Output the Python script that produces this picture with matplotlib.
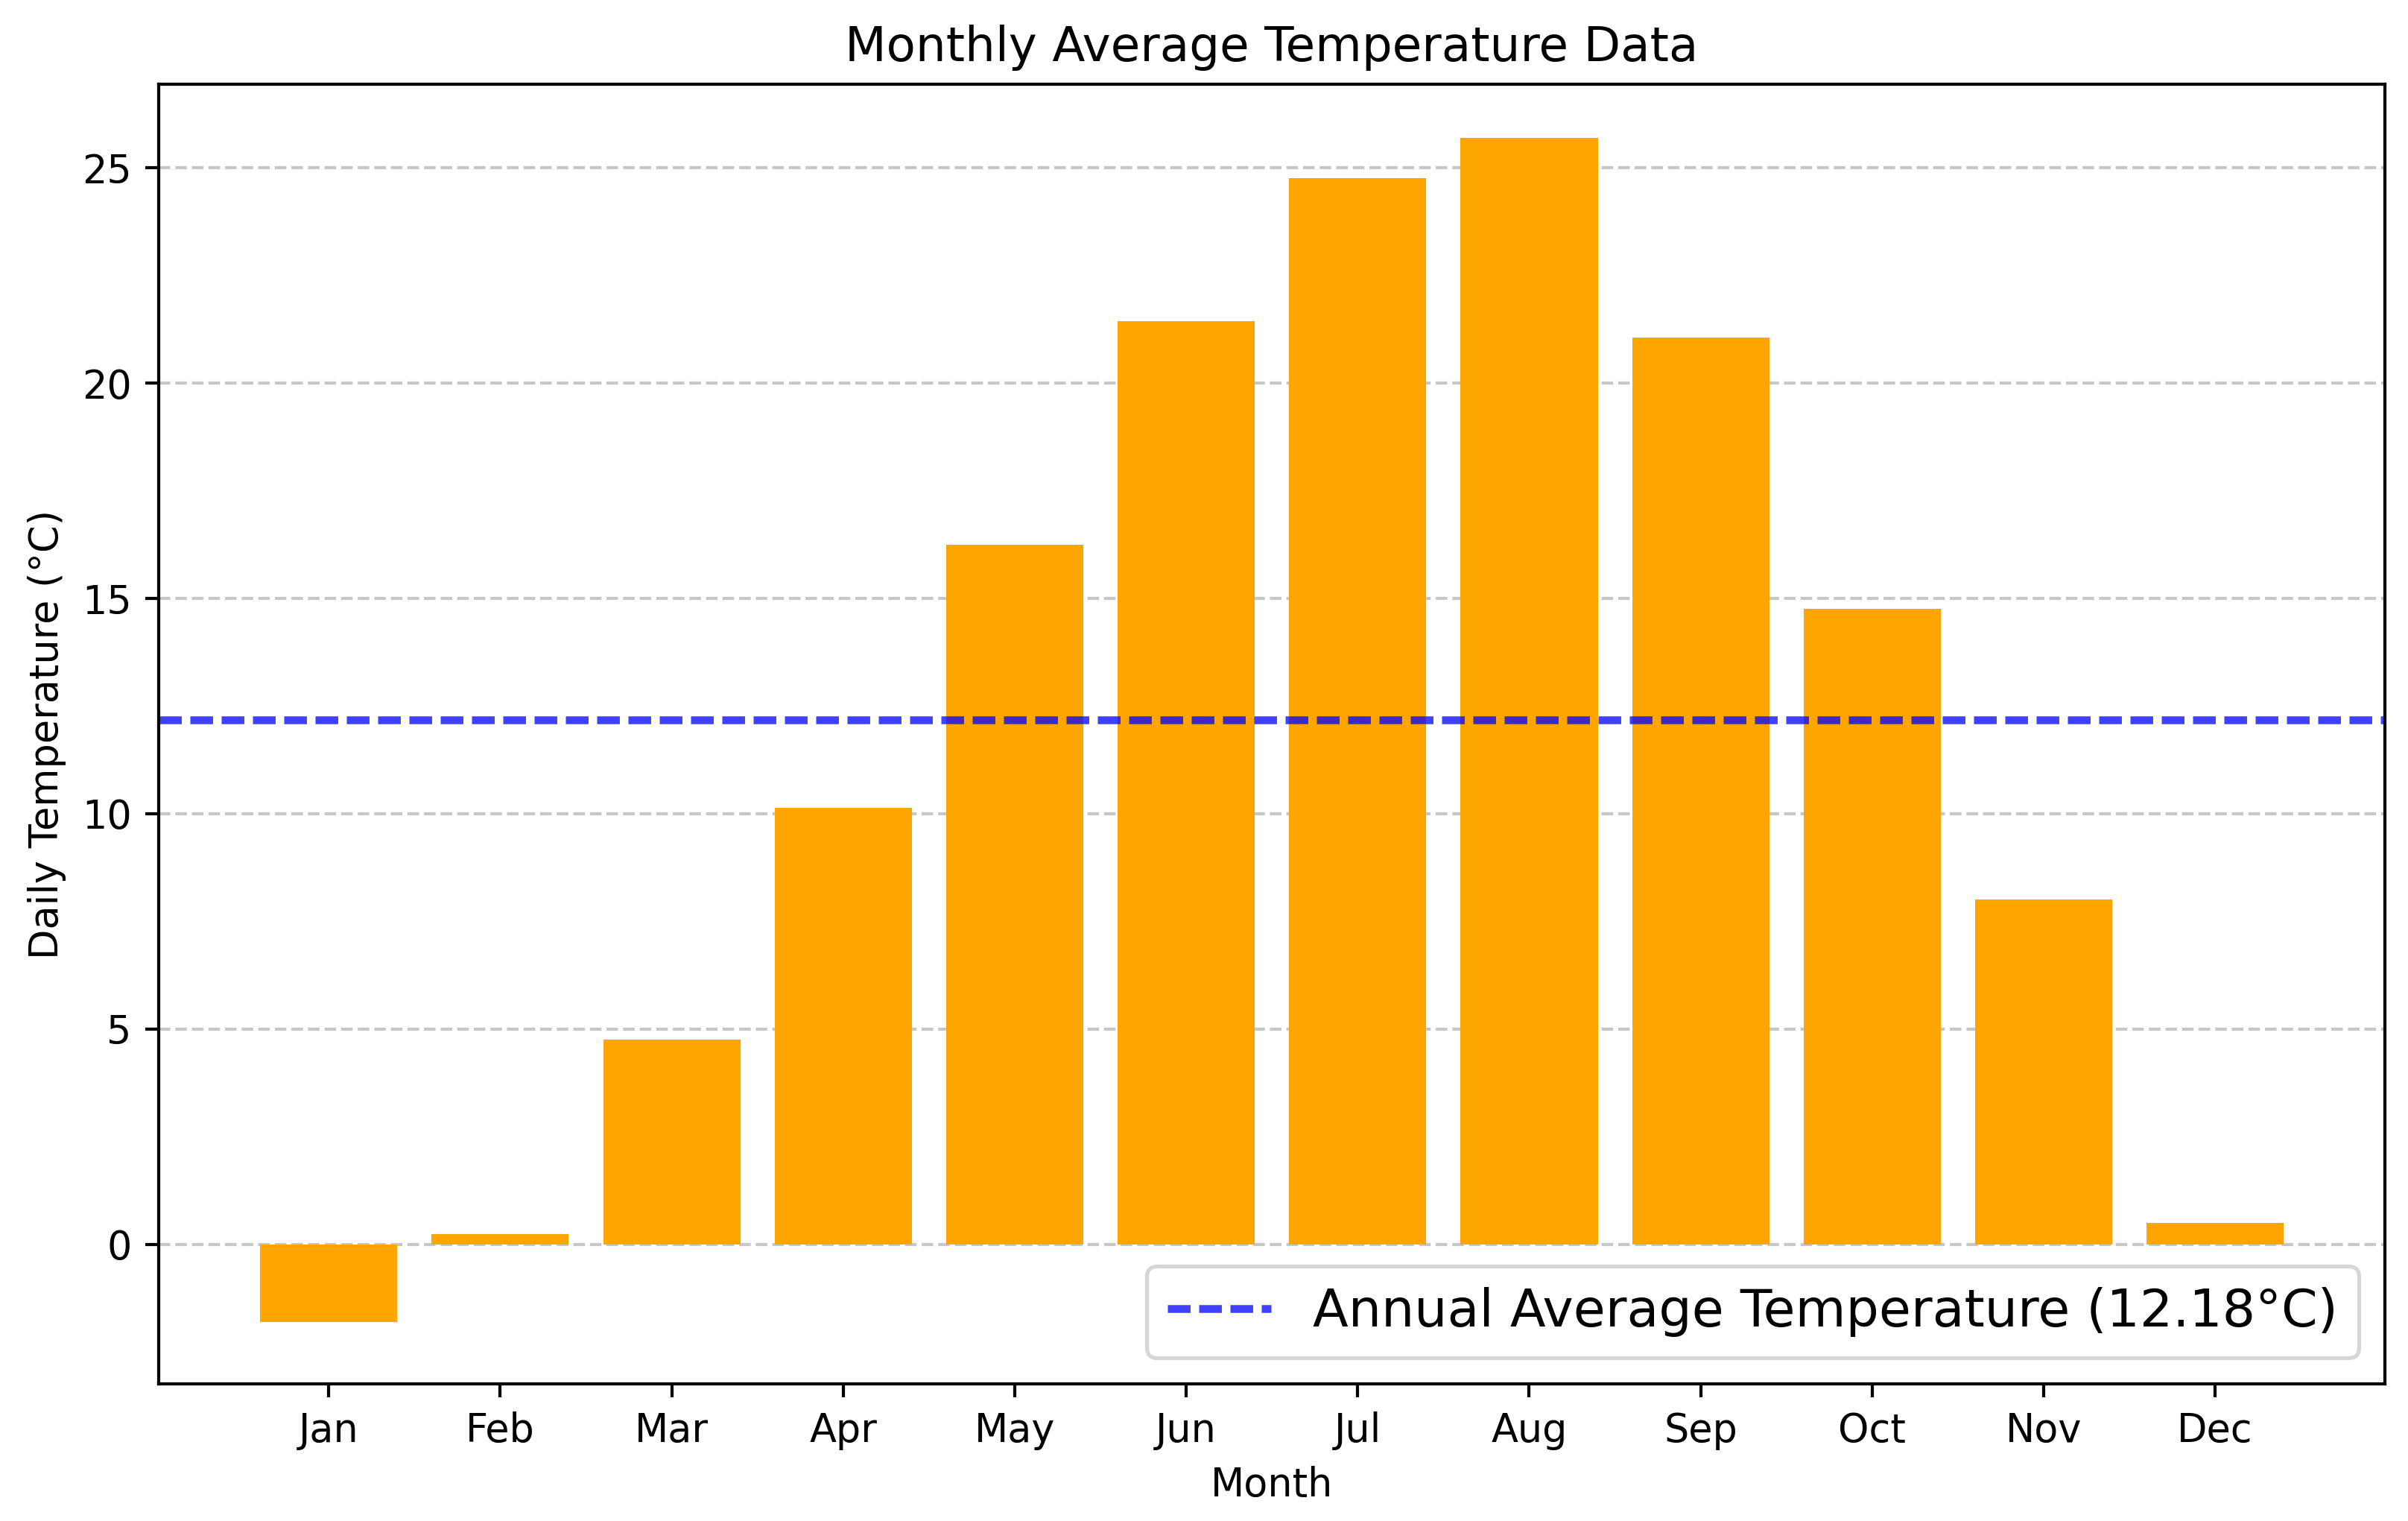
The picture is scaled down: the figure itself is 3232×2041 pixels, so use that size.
#!/usr/bin/env python3

import numpy as np
import matplotlib
matplotlib.use('Agg')
import matplotlib.pyplot as plt


# monthly values
months = ['Jan', 'Feb', 'Mar', 'Apr', 'May', 'Jun',
          'Jul', 'Aug', 'Sep', 'Oct', 'Nov', 'Dec']
monthly_temp = [-1.80, 0.23, 4.76, 10.14, 16.25, 21.43,
                24.76, 25.70, 21.06, 14.76, 8.01, 0.50]
# annual average as given in the legend
annual_avg = 12.18

if __name__ == '__main__':
    dpi = 378
    fig = plt.figure(figsize=(3233 / dpi, 2041 / dpi), dpi=dpi)
    ax = fig.add_axes([0.0660, 0.0902, 0.9901 - 0.0660, 0.9446 - 0.0902])

    x = np.arange(len(months))
    ax.bar(x, monthly_temp, color='orange')
    ax.axhline(annual_avg, color='blue', linestyle=(0, (2.9, 1.1)),
               linewidth=2, alpha=0.75,
               label=f'Annual Average Temperature ({annual_avg:.2f}°C)')

    ax.set_xticks(x)
    ax.set_xticklabels(months)
    ax.set_ylim(-3.24, 26.94)
    ax.set_xlabel('Month')
    ax.set_ylabel('Daily Temperature (°C)')
    ax.set_title('Monthly Average Temperature Data', fontsize=12.25)
    ax.grid(axis='y', linestyle='--', alpha=0.7)
    ax.set_axisbelow(True)
    ax.legend(loc='lower right', fontsize=13.3)

    fig.savefig('out.png', dpi=dpi)
